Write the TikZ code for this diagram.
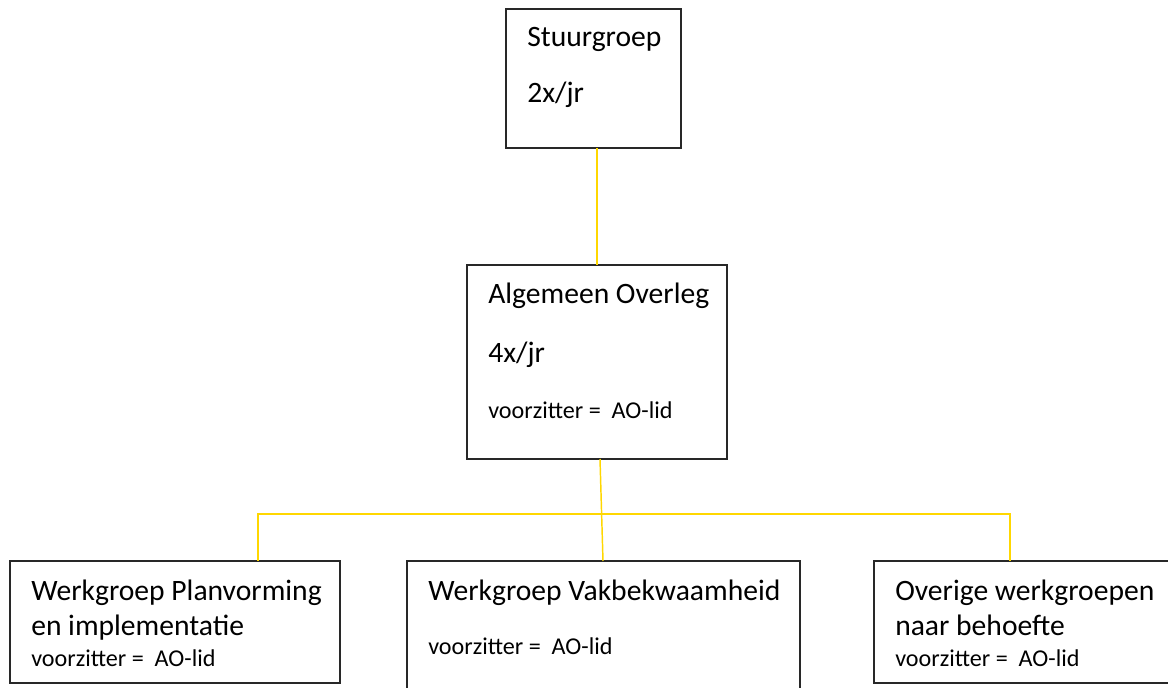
\documentclass[tikz,border=0pt]{standalone}
\usepackage{fontspec}
\setmainfont{Carlito}
\definecolor{lineyellow}{RGB}{255,215,0}
\definecolor{boxline}{RGB}{40,40,40}
\begin{document}
\begin{tikzpicture}[x=0.75pt,y=-0.75pt,
  box/.style={draw=boxline,line width=0.9pt,fill=white},
  big/.style={anchor=base west,inner sep=0pt,font=\fontsize{22.2pt}{26pt}\selectfont},
  small/.style={anchor=base west,inner sep=0pt,font=\fontsize{18.1pt}{21pt}\selectfont},
  conn/.style={draw=lineyellow,line width=1.1pt}]
\useasboundingbox (0,0) rectangle (1168,688);
% boxes
\draw[box] (506,9) rectangle (681,148);
\draw[box] (467,265) rectangle (727,459);
\draw[box] (10,561) rectangle (340,683);
\draw[box] (407,561) rectangle (800,700);
\draw[box] (874,561) rectangle (1180,683);
% connector points
\coordinate (j1) at (258,514);
\coordinate (j3) at (1010,514);
\coordinate (sgb) at (597,148);
\coordinate (aot) at (597,265);
\coordinate (aob) at (600,459);
\coordinate (w1t) at (258,561);
\coordinate (w2t) at (603,561);
\coordinate (w3t) at (1010,561);
\draw[conn] (sgb) -- (aot);
\draw[conn] (aob) -- (w2t);
\draw[conn] (w1t) -- (j1) -- (j3) -- (w3t);
% texts
\node[big] (t1) at (527,47) {Stuurgroep};
\node[big] (t2) at (527,103) {2x/jr};
\node[big] (t3) at (488,303) {Algemeen Overleg};
\node[big] (t4) at (488,362) {4x/jr};
\node[small] (t5) at (488,418) {voorzitter =\ \ AO-lid};
\node[big] (t6) at (31,600) {Werkgroep Planvorming};
\node[big] (t7) at (31,635) {en implementatie};
\node[small] (t8) at (31,666) {voorzitter =\ \ AO-lid};
\node[big] (t9) at (428,600) {Werkgroep Vakbekwaamheid};
\node[small] (t10) at (428,654) {voorzitter =\ \ AO-lid};
\node[big] (t11) at (895,600) {Overige werkgroepen};
\node[big] (t12) at (895,635) {naar behoefte};
\node[small] (t13) at (895,666) {voorzitter =\ \ AO-lid};
\end{tikzpicture}
\end{document}
